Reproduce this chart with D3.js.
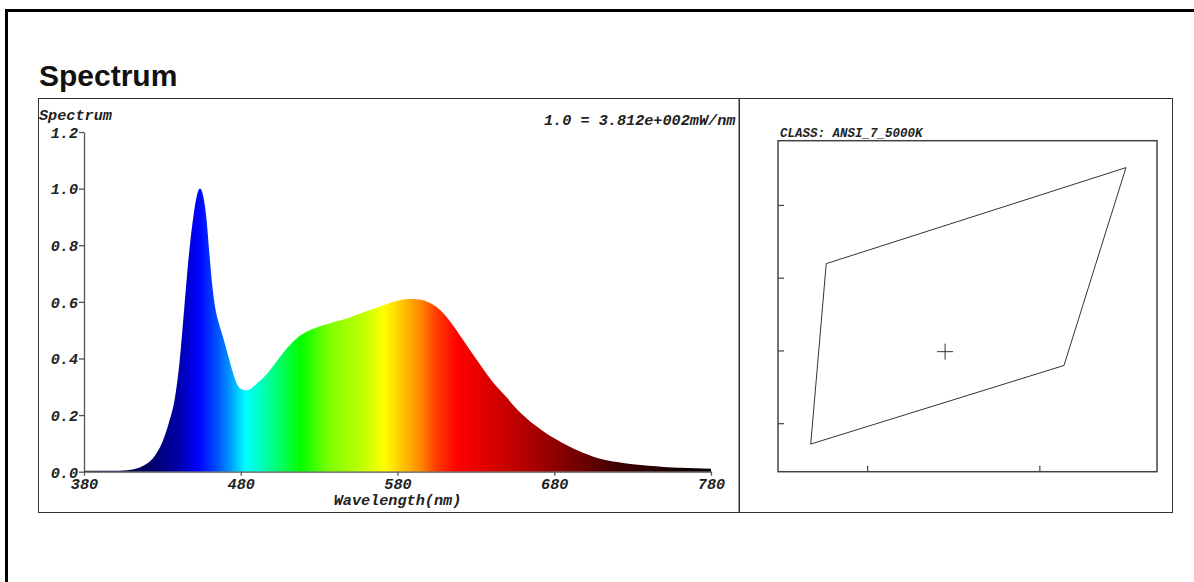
<!DOCTYPE html>
<html>
<head>
<meta charset="utf-8">
<script src="https://cdnjs.cloudflare.com/ajax/libs/d3/7.8.5/d3.min.js"></script>
<style>
    body { margin: 0; background: #ffffff; }
    svg text.mono {
        font-family: "Liberation Mono", "Courier New", monospace;
        font-weight: bold;
        font-style: italic;
        fill: #222;
    }
</style>
</head>
<body>
<div id="chart"></div>
<script>

// spectrum, relative to the peak (1.0 = 3.812e+002 mW/nm)
var wavelengths = [380, 390, 400, 405, 410, 415, 420, 425, 430, 434, 438, 441, 444, 447, 450, 452, 454, 456, 458, 460,
    462, 464, 466, 469, 472, 475, 478, 481, 484, 487, 490, 495, 500, 505, 510, 515, 520, 525, 530, 535,
    540, 545, 550, 555, 560, 565, 570, 575, 580, 585, 590, 595, 600, 605, 610, 615, 620, 625, 630, 635,
    640, 645, 650, 655, 660, 665, 670, 675, 680, 685, 690, 695, 700, 705, 710, 715, 720, 730, 740, 750,
    760, 770, 780];
var intensity = [0.003, 0.003, 0.003, 0.004, 0.007, 0.014, 0.028, 0.055, 0.105, 0.17, 0.26, 0.39, 0.58, 0.77, 0.91, 0.975, 1.0, 0.975, 0.90, 0.77,
    0.65, 0.57, 0.525, 0.47, 0.41, 0.35, 0.305, 0.29, 0.288, 0.295, 0.31, 0.335, 0.368, 0.405, 0.44, 0.468, 0.488, 0.502, 0.513, 0.521,
    0.53, 0.537, 0.546, 0.556, 0.567, 0.576, 0.586, 0.596, 0.604, 0.609, 0.61, 0.607, 0.598, 0.582, 0.555, 0.52, 0.48, 0.44, 0.40, 0.36,
    0.322, 0.29, 0.26, 0.228, 0.20, 0.176, 0.155, 0.135, 0.118, 0.102, 0.088, 0.075, 0.063, 0.053, 0.045, 0.039, 0.034, 0.026, 0.021, 0.017,
    0.014, 0.012, 0.010];
var xTicks = [380, 480, 580, 680, 780];
var yTicks = [0.0, 0.2, 0.4, 0.6, 0.8, 1.0, 1.2];

// ANSI 5000K quadrangle (CIE x, y) and the measured point
var ansiX = [0.3376, 0.3550, 0.3514, 0.3367];
var ansiY = [0.3620, 0.3752, 0.3480, 0.3372];
var pointX = 0.3445;
var pointY = 0.3499;
var cieXTicks = [0.34, 0.35];
var cieYTicks = [0.34, 0.35, 0.36, 0.37];

// colours used for the rainbow fill
var colorNm = [380, 420, 440, 453, 465, 474, 483, 495, 518, 537, 558, 571, 584, 596, 604, 618, 645, 680, 720, 780];
var colorHex = ["#000020", "#000060", "#0000a8", "#0000ff", "#0050ff", "#00a0ff", "#00ffff", "#00ffb0", "#00ff00", "#80ff00",
    "#c0ff00", "#ffff00", "#ffc000", "#ff8000", "#ff4000", "#ff0000", "#d00000", "#900000", "#400000", "#000000"];

var W = 1194, H = 582;
var MONO_SIZE = "15.2px";

var svg = d3.select("#chart").append("svg")
    .attr("width", W).attr("height", H)
    .style("font-family", "'Liberation Sans', Arial, sans-serif");

// outer frame, only the left and top edges show
svg.append("path")
    .attr("d", "M6.5," + H + "V10.5H" + W)
    .attr("fill", "none").attr("stroke", "#000").attr("stroke-width", 3);

svg.append("text")
    .attr("x", 39).attr("y", 86)
    .attr("font-size", 30).attr("font-weight", "bold")
    .attr("fill", "#111")
    .text("Spectrum");

// panel borders
svg.append("rect").attr("x", 38.5).attr("y", 98.5).attr("width", 700.5).attr("height", 414)
    .attr("fill", "none").attr("stroke", "#333").attr("stroke-width", 1);
svg.append("rect").attr("x", 739.5).attr("y", 98.5).attr("width", 433).attr("height", 414)
    .attr("fill", "none").attr("stroke", "#333").attr("stroke-width", 1);

/** left panel: the spectrum */
var x = d3.scaleLinear().domain([380, 780]).range([84, 711]);
var y = d3.scaleLinear().domain([0, 1.2]).range([471.7, 132]);

var grad = svg.append("defs").append("linearGradient")
    .attr("id", "rainbow")
    .attr("gradientUnits", "userSpaceOnUse")
    .attr("x1", x(380)).attr("x2", x(780)).attr("y1", 0).attr("y2", 0);
grad.selectAll("stop").data(colorNm).enter().append("stop")
    .attr("offset", function(d) { return (d - 380) / 400; })
    .attr("stop-color", function(d, i) { return colorHex[i]; });

var area = d3.area()
    .x(function(d, i) { return x(wavelengths[i]); })
    .y0(y(0))
    .y1(function(d) { return y(d); })
    .curve(d3.curveMonotoneX);

svg.append("path")
    .datum(intensity)
    .attr("d", area)
    .attr("fill", "url(#rainbow)");

var xAxis = svg.append("g")
    .attr("transform", "translate(0," + y(0) + ")")
    .call(d3.axisBottom(x).tickValues(xTicks).tickSize(4).tickSizeOuter(0).tickFormat(d3.format("d")));
var yAxis = svg.append("g")
    .attr("transform", "translate(" + x(380) + ",0)")
    .call(d3.axisLeft(y).tickValues(yTicks).tickSize(5).tickSizeOuter(0).tickFormat(d3.format(".1f")));

[xAxis, yAxis].forEach(function(ax) {
    ax.select(".domain").attr("stroke", "#555").attr("stroke-width", 1.3);
    ax.selectAll(".tick line").attr("stroke", "#555").attr("stroke-width", 1.3);
    ax.selectAll(".tick text")
        .attr("class", "mono")
        .attr("font-size", null).attr("font-family", null)
        .style("font-size", MONO_SIZE);
});
// baseline of the x labels sits about 17px under the axis
xAxis.selectAll(".tick text").attr("y", 17).attr("dy", 0);
yAxis.selectAll(".tick text").attr("x", -6).attr("dy", "0.35em");

svg.append("text").attr("class", "mono")
    .attr("x", 39).attr("y", 120)
    .style("font-size", MONO_SIZE)
    .text("Spectrum");
svg.append("text").attr("class", "mono")
    .attr("x", 544).attr("y", 125)
    .style("font-size", MONO_SIZE)
    .text("1.0 = 3.812e+002mW/nm");
svg.append("text").attr("class", "mono")
    .attr("x", x(580)).attr("y", 505)
    .attr("text-anchor", "middle")
    .style("font-size", MONO_SIZE)
    .text("Wavelength(nm)");

/** right panel: the chromaticity class */
var cx = d3.scaleLinear().domain([0.3348, 0.3568]).range([778, 1157]);
var cy = d3.scaleLinear().domain([0.3334, 0.3789]).range([471.7, 140.7]);

svg.append("rect")
    .attr("x", cx.range()[0]).attr("y", cy.range()[1])
    .attr("width", cx.range()[1] - cx.range()[0])
    .attr("height", cy.range()[0] - cy.range()[1])
    .attr("fill", "none").attr("stroke", "#444").attr("stroke-width", 1.5);

svg.selectAll("line.cie-x").data(cieXTicks).enter().append("line")
    .attr("class", "cie-x")
    .attr("x1", function(d) { return cx(d); }).attr("x2", function(d) { return cx(d); })
    .attr("y1", cy.range()[0]).attr("y2", cy.range()[0] - 6)
    .attr("stroke", "#444").attr("stroke-width", 1.2);
svg.selectAll("line.cie-y").data(cieYTicks).enter().append("line")
    .attr("class", "cie-y")
    .attr("y1", function(d) { return cy(d); }).attr("y2", function(d) { return cy(d); })
    .attr("x1", cx.range()[0]).attr("x2", cx.range()[0] + 6)
    .attr("stroke", "#444").attr("stroke-width", 1.2);

svg.append("path")
    .datum(d3.range(ansiX.length))
    .attr("d", d3.line()
        .x(function(i) { return cx(ansiX[i]); })
        .y(function(i) { return cy(ansiY[i]); })
        .curve(d3.curveLinearClosed))
    .attr("fill", "none").attr("stroke", "#333").attr("stroke-width", 1);

var px = cx(pointX), py = cy(pointY);
svg.append("path")
    .attr("d", "M" + (px - 8) + "," + py + "H" + (px + 8) + "M" + px + "," + (py - 8) + "V" + (py + 8))
    .attr("stroke", "#333").attr("stroke-width", 1);

svg.append("text").attr("class", "mono")
    .attr("x", 780).attr("y", 137)
    .style("font-size", "12.5px")
    .text("CLASS: ANSI_7_5000K");

</script>
</body>
</html>
